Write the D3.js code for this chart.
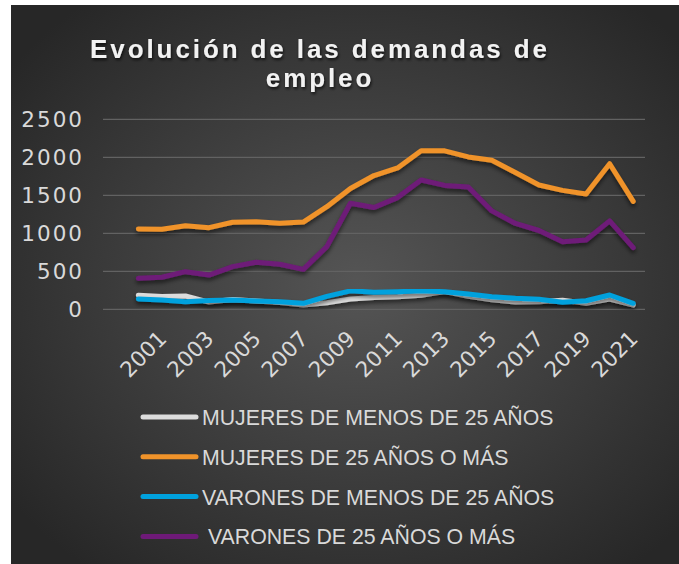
<html lang="es">
  <head>
    <meta charset="UTF-8" />
    <title>Evolución de las demandas de empleo</title>
    <style>
      body { margin: 0; background: #fff; }
      .tick-label { fill: #d9d9d9; font-family: "DejaVu Sans", sans-serif; font-size: 21.5px; letter-spacing: 2px; }
      .legend-label { fill: #d9d9d9; font-family: "Liberation Sans", Arial, sans-serif; font-size: 21.3px; white-space: pre; }
    </style>
  </head>
  <body>
    <script src="https://cdn.jsdelivr.net/npm/d3@7"></script>
    <script>
      // data
      const years = d3.range(2000, 2022);
      const tickYears = [2001, 2003, 2005, 2007, 2009, 2011, 2013, 2015, 2017, 2019, 2021];
      const yTicks = [0, 500, 1000, 1500, 2000, 2500];

      const mujeresMenos25 = [185, 170, 175, 95, 130, 110, 90, 55, 85, 135, 155, 165, 185, 235, 170, 125, 95, 100, 120, 80, 135, 55];
      const mujeres25Mas = [1057, 1053, 1100, 1074, 1145, 1153, 1132, 1148, 1350, 1590, 1760, 1860, 2085, 2085, 2005, 1960, 1800, 1636, 1565, 1517, 1915, 1420];
      const varonesMenos25 = [136, 122, 100, 115, 122, 110, 100, 79, 170, 243, 225, 232, 243, 232, 201, 166, 145, 132, 92, 113, 188, 79];
      const varones25Mas = [408, 421, 495, 451, 561, 618, 592, 526, 824, 1395, 1340, 1470, 1702, 1630, 1610, 1295, 1130, 1037, 890, 912, 1164, 811];

      const seriesNames = ["MUJERES DE MENOS DE 25 AÑOS", "MUJERES DE 25 AÑOS O MÁS", "VARONES DE MENOS DE 25 AÑOS", " VARONES DE 25 AÑOS O MÁS"];
      const seriesValues = [mujeresMenos25, mujeres25Mas, varonesMenos25, varones25Mas];
      const seriesColors = ["#dcdcdc", "#f0932a", "#00a1dd", "#6e1a78"];

      const width = 679, height = 564;
      const svg = d3.select("body").append("svg")
        .attr("width", width)
        .attr("height", height);

      const defs = svg.append("defs");
      const grad = defs.append("radialGradient")
        .attr("id", "bg")
        .attr("cx", "52%").attr("cy", "50%").attr("r", "65%");
      grad.append("stop").attr("offset", "0%").attr("stop-color", "#555555");
      grad.append("stop").attr("offset", "100%").attr("stop-color", "#272727");

      const shadow = defs.append("filter").attr("id", "shadow")
        .attr("x", "-10%").attr("y", "-10%").attr("width", "120%").attr("height", "140%");
      shadow.append("feDropShadow")
        .attr("dx", 0).attr("dy", 3).attr("stdDeviation", 2)
        .attr("flood-color", "#000").attr("flood-opacity", 0.55);

      const titleShadow = defs.append("filter").attr("id", "tshadow");
      titleShadow.append("feDropShadow")
        .attr("dx", 1).attr("dy", 2).attr("stdDeviation", 1.5)
        .attr("flood-color", "#000").attr("flood-opacity", 0.7);

      svg.append("rect")
        .attr("x", 11).attr("y", 5)
        .attr("width", width - 11).attr("height", height - 5)
        .attr("fill", "url(#bg)");

      // title
      const title = svg.append("text")
        .attr("text-anchor", "middle")
        .attr("fill", "#f2f2f2")
        .attr("font-family", "Liberation Sans, Arial, sans-serif")
        .attr("font-weight", "bold")
        .attr("font-size", 26)
        .attr("letter-spacing", 2.9)
        .attr("filter", "url(#tshadow)");
      title.append("tspan").attr("x", 320).attr("y", 58).text("Evolución de las demandas de");
      title.append("tspan").attr("x", 320).attr("y", 87).text("empleo");

      const x = d3.scaleLinear().domain([1998.5, 2021.5]).range([103, 645]);
      const y = d3.scaleLinear().domain([0, 2500]).range([309.3, 119.3]);

      // gridlines
      svg.append("g")
        .selectAll("line")
        .data(yTicks)
        .join("line")
        .attr("x1", x.range()[0]).attr("x2", x.range()[1])
        .attr("y1", d => y(d)).attr("y2", d => y(d))
        .attr("stroke", "#626262")
        .attr("stroke-width", 1.3);

      // y labels
      svg.append("g")
        .selectAll("text")
        .data(yTicks)
        .join("text")
        .attr("class", "tick-label")
        .attr("x", 84)
        .attr("y", d => y(d))
        .attr("dy", "0.36em")
        .attr("text-anchor", "end")
        .text(d => d);

      // x labels
      svg.append("g")
        .selectAll("text")
        .data(tickYears)
        .join("text")
        .attr("class", "tick-label")
        .style("letter-spacing", "0px")
        .attr("text-anchor", "end")
        .attr("transform", d => `translate(${x(d) + 6},${340}) rotate(-45)`)
        .text(d => d);

      // lines
      const line = d3.line()
        .x((d, i) => x(years[i]))
        .y(d => y(d));

      svg.append("g")
        .selectAll("path")
        .data(seriesValues)
        .join("path")
        .attr("d", line)
        .attr("fill", "none")
        .attr("stroke", (d, i) => seriesColors[i])
        .attr("stroke-width", 5)
        .attr("stroke-linecap", "round")
        .attr("stroke-linejoin", "round")
        .attr("filter", "url(#shadow)");

      // legend
      const legend = svg.append("g")
        .selectAll("g")
        .data(seriesNames)
        .join("g")
        .attr("transform", (d, i) => `translate(0,${417 + i * 39.8})`);

      legend.append("line")
        .attr("x1", 143).attr("x2", 196)
        .attr("stroke", (d, i) => seriesColors[i])
        .attr("stroke-width", 5)
        .attr("stroke-linecap", "round");

      legend.append("text")
        .attr("class", "legend-label")
        .attr("x", 202)
        .attr("y", 8)
        .text(d => d);
    </script>
  </body>
</html>
